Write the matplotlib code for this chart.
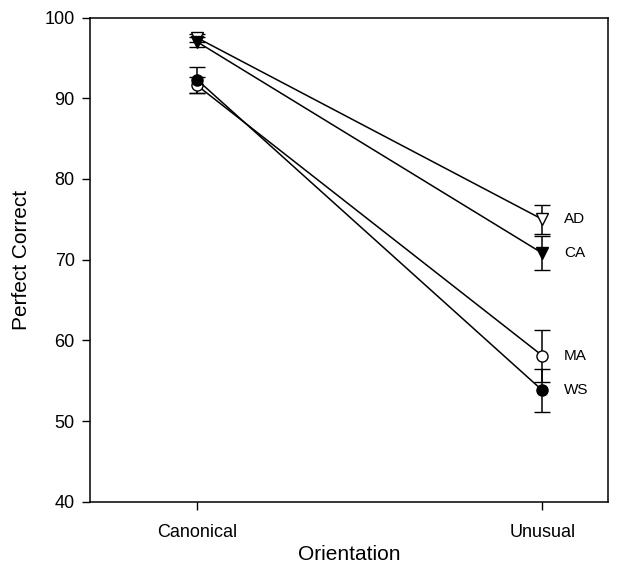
import numpy as np
import matplotlib
matplotlib.use('Agg')
import matplotlib.pyplot as plt

plt.rcParams['font.family'] = ['Liberation Sans', 'DejaVu Sans']

# Data
conditions = ['Canonical', 'Unusual']
groups = ['AD', 'CA', 'MA', 'WS']
ad_mean = [97.5, 75.0]
ad_err = [0.5, 1.8]
ca_mean = [97.0, 70.8]
ca_err = [0.6, 2.1]
ma_mean = [91.6, 58.1]
ma_err = [1.0, 3.2]
ws_mean = [92.3, 53.8]
ws_err = [1.6, 2.7]

series = [
    ('AD', ad_mean, ad_err, 'v', 'white'),
    ('CA', ca_mean, ca_err, 'v', 'black'),
    ('MA', ma_mean, ma_err, 'o', 'white'),
    ('WS', ws_mean, ws_err, 'o', 'black'),
]

fig = plt.figure(figsize=(6.34, 5.67), dpi=100)
ax = fig.add_axes([0.142, 0.115, 0.817, 0.854])

x = np.arange(len(conditions))
for name, mean, err, mk, fc in series:
    ax.errorbar(x, mean, yerr=err, color='black', lw=1.1, marker=mk,
                markersize=8, markerfacecolor=fc, markeredgecolor='black',
                markeredgewidth=1.0, capsize=6, capthick=1.1, elinewidth=1.1)
    ax.text(x[-1] + 0.063, mean[-1], name, fontsize=11, va='center', ha='left')

ax.set_xlim(-0.31, 1.19)
ax.set_ylim(40, 100)
ax.set_yticks(range(40, 101, 10))
ax.set_xticks(x)
ax.set_xticklabels(conditions)
ax.tick_params(direction='out', length=6, width=1, labelsize=13)
ax.tick_params(axis='x', pad=10)
ax.tick_params(axis='y', pad=5)
for sp in ax.spines.values():
    sp.set_linewidth(1.1)

ax.set_xlabel('Orientation', fontsize=15, labelpad=3)
ax.set_ylabel('Perfect Correct', fontsize=15, labelpad=10)

plt.savefig('out.png', dpi=100)
